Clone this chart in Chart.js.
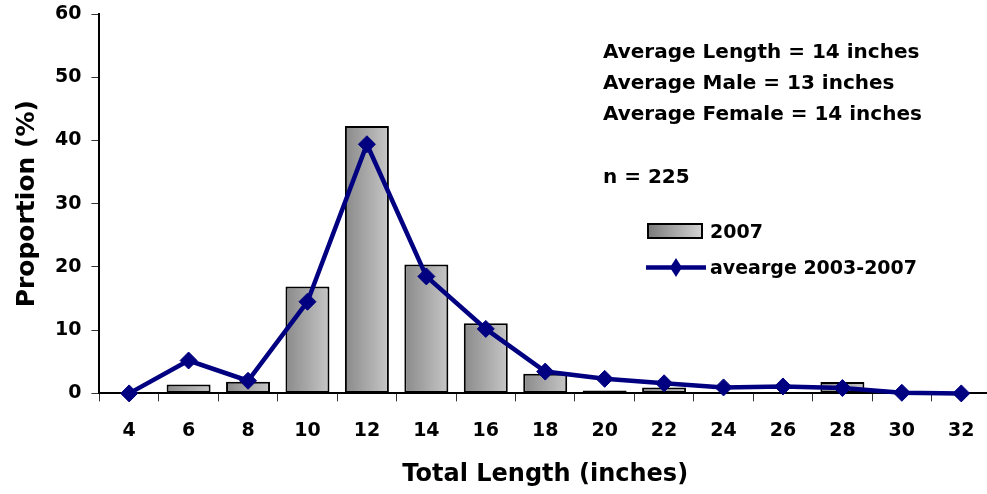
<!DOCTYPE html>
<html>
<head>
<meta charset="utf-8">
<script src="https://cdn.jsdelivr.net/npm/chart.js@4"></script>
<style>
  html, body { margin: 0; padding: 0; background: #fff; overflow: hidden; }
  #wrap { position: relative; width: 995px; height: 494px; }
  .note {
    position: absolute; left: 603px; margin: 0;
    font: bold 20px "DejaVu Sans", sans-serif; line-height: 24px;
    color: #000; white-space: nowrap;
  }
  .leg {
    position: absolute; left: 710px;
    font: bold 19px "DejaVu Sans", sans-serif; line-height: 23px;
    color: #000; white-space: nowrap;
  }
  #barKey {
    position: absolute; left: 647px; top: 223px; width: 52px; height: 12px;
    border: 2px solid #000;
    background: linear-gradient(to right, #7c7c7c, #d2d2d2);
  }
  #lineKey { position: absolute; left: 646px; top: 258px; }
</style>
</head>
<body>
<div id="wrap">
  <canvas id="lengthChart"></canvas>
  <div class="note" style="top:39px">Average Length = 14 inches</div>
  <div class="note" style="top:70px">Average Male = 13 inches</div>
  <div class="note" style="top:101px">Average Female = 14 inches</div>
  <div class="note" style="top:164px">n = 225</div>
  <div id="barKey"></div>
  <div class="leg" style="top:220px">2007</div>
  <svg id="lineKey" width="62" height="20">
    <line x1="0" y1="9.5" x2="60" y2="9.5" stroke="#000080" stroke-width="4.5"/>
    <polygon points="30,0 36,9.5 30,19 24,9.5" fill="#000080"/>
  </svg>
  <div class="leg" style="top:256px">avearge 2003-2007</div>
</div>
<script>
const lengths = ["4", "6", "8", "10", "12", "14", "16", "18", "20", "22", "24", "26", "28", "30", "32"]
const year2007 = [0, 1.4, 1.85, 16.9, 42.3, 20.4, 11.1, 3.1, 0.45, 0.95, 0, 0, 1.8, 0, 0]
const avg0307 = [0, 5.2, 2.0, 14.5, 39.4, 18.5, 10.2, 3.45, 2.3, 1.6, 0.95, 1.1, 0.85, 0.1, 0]
const yTicks = [0, 10, 20, 30, 40, 50, 60]

const font = "'DejaVu Sans', sans-serif"

// grey shaded bars, darker on the left
function barFill(context) {
    const chart = context.chart
    const x = chart.scales.x
    if (!chart.chartArea || !x) return '#a8a8a8'
    const center = x.getPixelForValue(context.dataIndex)
    const half = x.width / lengths.length * 0.74 / 2
    const g = chart.ctx.createLinearGradient(center - half, 0, center + half, 0)
    g.addColorStop(0, '#8a8a8a')
    g.addColorStop(1, '#c6c6c6')
    return g
}

const ctx = document.getElementById('lengthChart').getContext('2d')
const chart = new Chart(ctx, {
    type: 'bar',
    data: {
        labels: lengths,
        datasets: [{
            type: 'line',
            label: 'avearge 2003-2007',
            data: avg0307,
            borderColor: '#000080',
            backgroundColor: '#000080',
            borderWidth: 4.5,
            pointStyle: 'rectRot',
            pointRadius: 8.5,
            pointBorderWidth: 1,
            tension: 0,
            clip: false,
            order: 0
        }, {
            label: '2007',
            data: year2007,
            backgroundColor: barFill,
            borderColor: '#000',
            borderWidth: 2,
            borderSkipped: false,
            categoryPercentage: 0.74,
            barPercentage: 1,
            order: 1
        }]
    },
    options: {
        responsive: true,
        maintainAspectRatio: false,
        animation: false,
        layout: { autoPadding: false, padding: { top: 14, right: 4, left: 0, bottom: 0 } },
        plugins: {
            legend: { display: false },
            tooltip: { enabled: false }
        },
        scales: {
            x: {
                offset: true,
                grid: { offset: true, drawOnChartArea: false, drawTicks: true, tickLength: 8, color: '#333', lineWidth: 1 },
                border: { display: true, color: '#000', width: 2 },
                ticks: { color: '#000', padding: 18, font: { family: font, size: 19, weight: 'bold' } },
                title: {
                    display: true, text: 'Total Length (inches)', color: '#000',
                    padding: { top: 0, bottom: 5 },
                    font: { family: font, size: 24, weight: 'bold' }
                }
            },
            y: {
                min: 0,
                max: 60,
                afterBuildTicks: axis => { axis.ticks = yTicks.map(v => ({ value: v })) },
                afterFit: axis => { axis.paddingTop = 0 },
                grid: { drawOnChartArea: false, drawTicks: true, tickLength: 8, color: '#333', lineWidth: 1 },
                border: { display: true, color: '#000', width: 2 },
                ticks: { color: '#000', padding: 10, font: { family: font, size: 19, weight: 'bold' } },
                title: {
                    display: true, text: 'Proportion (%)', color: '#000',
                    padding: { top: 12, bottom: 3 },
                    font: { family: font, size: 25, weight: 'bold' }
                }
            }
        }
    }
})
</script>
</body>
</html>
